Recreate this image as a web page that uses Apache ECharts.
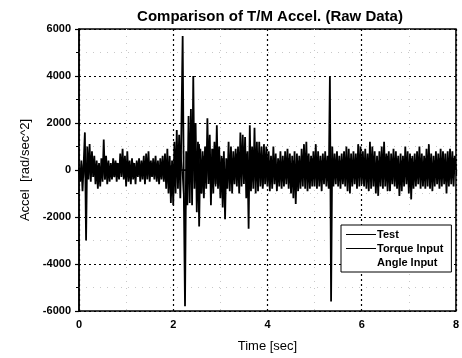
<!DOCTYPE html>
<html><head><meta charset="utf-8">
<script src="https://cdn.jsdelivr.net/npm/echarts@6/dist/echarts.min.js"></script>
<style>html,body{margin:0;padding:0;background:#fff}#c{width:462px;height:358px}</style>
</head><body><div id="c"></div>
<script>
var titleText = 'Comparison of T/M Accel. (Raw Data)';
var xName = 'Time [sec]';
var yName = 'Accel  [rad/sec^2]';
var seriesNames = ['Test', 'Torque Input', 'Angle Input'];
var xTicks = [0, 2, 4, 6, 8];
var yTicks = [-6000, -4000, -2000, 0, 2000, 4000, 6000];

// Test signal sampled every 0.025 s (rows of 0.2 s)
var testStep = 0.025;
var testValues = [
  100, -500, 400, -900, 300, 1600, -3000, 1000,
  -400, 1100, -500, 800, -300, 600, -600, 400,
  -800, 300, -700, 500, -500, 1300, -400, 600,
  -600, 400, -500, 300, -400, 500, -300, 400,
  -500, 300, -400, 700, -300, 900, -400, 600,
  -700, 800, -500, 400, -600, 500, -400, 300,
  -600, 400, -300, 500, -500, 400, -400, 600,
  -600, 700, -400, 800, -500, 400, -300, 500,
  -400, 600, -500, 400, -600, 500, -400, 600,
  -500, 700, -800, 900, -1000, 600, -1400, 400,
  -1500, 1200, -1000, 1700, -800, 1500, -1200, 2000,
  5700, -1000, -5800, 800, -1500, 2300, -1400, 2600,
  -1500, 4000, -800, 2000, -1800, 1200, -2400, 900,
  -1000, 800, -1200, 1000, -800, 2200, -600, 1500,
  -1500, 900, -1000, 1200, -600, 1900, -800, 1000,
  -1200, 600, -1600, 800, -2100, 500, -800, 1200,
  -900, 1000, -1000, 800, -600, 900, -700, 1000,
  -1000, 1600, -700, 1500, -600, 1400, -1200, 800,
  -2500, 1900, -900, 1000, -800, 1800, -1000, 1200,
  -900, 1200, -700, 1000, -800, 1100, -600, 1000,
  -700, 800, -900, 600, -800, 1000, -600, 700,
  -900, 500, -700, 800, -800, 600, -700, 800,
  -600, 900, -800, 700, -1000, 600, -1200, 800,
  -1450, 700, -900, 600, -800, 900, -700, 1100,
  -800, 1200, -900, 700, -800, 600, -700, 800,
  -700, 1100, -800, 800, -700, 600, -900, 700,
  -600, 800, -700, 600, -800, 4000, -5600, 1000,
  -700, 700, -600, 800, -700, 600, -800, 700,
  -600, 800, -700, 1000, -900, 900, -1000, 700,
  -700, 800, -600, 700, -800, 1100, -700, 1000,
  -600, 800, -700, 900, -800, 700, -900, 1200,
  -800, 1000, -700, 800, -1000, 600, -1100, 800,
  -700, 1000, -800, 1200, -700, 700, -900, 800,
  -900, 700, -600, 900, -700, 800, -800, 600,
  -1100, 700, -900, 600, -700, 1000, -600, 800,
  -1000, 700, -1250, 600, -800, 700, -700, 800,
  -600, 1000, -800, 700, -700, 600, -800, 900,
  -700, 1100, -800, 700, -900, 600, -700, 800,
  -600, 700, -800, 900, -700, 800, -600, 700,
  -1000, 800, -700, 900, -600, 800, -700, 600,
  0
];

// Torque input sampled every 0.05 s
var torqueStep = 0.05;
var torqueValues = [
  0, -400, 300, -500, 600, -300, 400, -300, 200, -300,
  300, -400, 300, -300, 200, -300, 300, -200, 300, -300,
  -300, 200, -300, 300, -200, 300, -200, 250, -300, 300,
  -300, 250, -300, 200, -300, 250, -400, 300, -600, 200,
  -700, 600, -500, 900, -300, -2000, 300, 1200, -900, 1800,
  -700, 1100, -1000, 600, -500, 1000, -600, 900, -700, 600,
  -700, 500, -900, 400, -600, 500, -400, 700, -500, 600,
  -400, 700, -400, 600, -500, 600, -400, 500, -700, 500,
  -500, 400, -400, 500, -400, 400, -500, 400, -400, 500,
  -600, 400, -500, 400, -500, 500, -400, 600, -400, 500,
  -400, 500, -400, 400, -500, 400, -400, 500, -400, 300,
  -400, 400, -500, 300, -400, 500, -400, 400, -500, 500,
  -400, 500, -400, 500, -500, 600, -500, 400, -400, 500,
  -400, 600, -500, 400, -500, 500, -500, 400, -400, 500,
  -500, 500, -500, 400, -400, 500, -400, 500, -400, 400,
  -500, 400, -400, 500, -400, 400, -500, 400, -400, 500,
  0
];

// Angle input sampled every 0.2 s
var angleStep = 0.2;
var angleValues = [
  0, 200, -200, 150, -150, 200, -150, 150, -200, 150,
  -300, 800, -600, 400, -400, 300, -300, 400, -300, 200,
  -200, 200, -200, 250, -200, 150, -200, 300, -200, 200,
  -200, 200, -200, 150, -200, 200, -200, 150, -150, 200,
  0
];

function toPairs(step, vals) {
  return vals.map(function (v, i) { return [+(i * step).toFixed(4), v]; });
}

var chart = echarts.init(document.getElementById('c'), null, {renderer: 'canvas'});
var font = 'Liberation Sans, Arial, sans-serif';
chart.setOption({
  animation: false,
  backgroundColor: '#fff',
  title: {
    text: titleText, left: 265, top: 4, textAlign: 'center',
    textStyle: {fontFamily: font, fontSize: 15, fontWeight: 'bold', color: '#000'}
  },
  legend: {
    orient: 'vertical', left: 341, top: 225,
    backgroundColor: '#fff', borderColor: '#000', borderWidth: 1,
    padding: [4, 8, 4, 5], itemGap: 3, itemWidth: 30, itemHeight: 12,
    icon: 'path://M0,5L30,5L30,6L0,6Z',
    data: seriesNames,
    textStyle: {fontFamily: font, fontSize: 11, fontWeight: 'bold', color: '#000', padding: [0, 0, 0, -4]}
  },
  grid: {
    left: 79, right: 4, top: 29, bottom: 47,
    show: true, borderColor: '#000', borderWidth: 1.5, backgroundColor: 'transparent'
  },
  xAxis: {
    type: 'value', min: 0, max: 8, interval: 2,
    name: xName, nameLocation: 'middle', nameGap: 29,
    nameTextStyle: {fontFamily: font, fontSize: 13, color: '#000'},
    axisLine: {show: true, lineStyle: {color: '#000', width: 1.5}},
    axisTick: {show: true, inside: false, length: 4, lineStyle: {color: '#000', width: 1.2}},
    minorTick: {show: true, splitNumber: 2, length: 3, lineStyle: {color: '#000'}},
    axisLabel: {fontFamily: font, fontSize: 11, fontWeight: 'bold', color: '#000', margin: 8},
    splitLine: {show: true, lineStyle: {color: '#000', type: [2, 3], width: 1.2}},
    minorSplitLine: {show: true, lineStyle: {color: '#c8c8c8', type: [1, 6]}}
  },
  yAxis: {
    type: 'value', min: -6000, max: 6000, interval: 2000,
    name: yName, nameLocation: 'middle', nameGap: 46, nameRotate: 90,
    nameTextStyle: {fontFamily: font, fontSize: 13, color: '#000'},
    axisLine: {show: true, lineStyle: {color: '#000', width: 1.5}},
    axisTick: {show: true, inside: false, length: 4, lineStyle: {color: '#000', width: 1.2}},
    minorTick: {show: true, splitNumber: 2, length: 3, lineStyle: {color: '#000'}},
    axisLabel: {fontFamily: font, fontSize: 11, fontWeight: 'bold', color: '#000', margin: 8,
      formatter: function (v) { return String(v); }},
    splitLine: {show: true, lineStyle: {color: '#000', type: [2, 3], width: 1.2}},
    minorSplitLine: {show: true, lineStyle: {color: '#c8c8c8', type: [1, 6]}}
  },
  series: [
    {name: seriesNames[2], type: 'line', data: toPairs(angleStep, angleValues), showSymbol: false,
     lineStyle: {color: '#e6e6e6', width: 1}, itemStyle: {color: '#ffffff'}, z: 1},
    {name: seriesNames[1], type: 'line', data: toPairs(torqueStep, torqueValues), showSymbol: false,
     lineStyle: {color: '#000', width: 1.4}, itemStyle: {color: '#000'}, z: 2},
    {name: seriesNames[0], type: 'line', data: toPairs(testStep, testValues), showSymbol: false,
     lineStyle: {color: '#000', width: 1.8}, itemStyle: {color: '#000'}, z: 3}
  ]
});
</script></body></html>
